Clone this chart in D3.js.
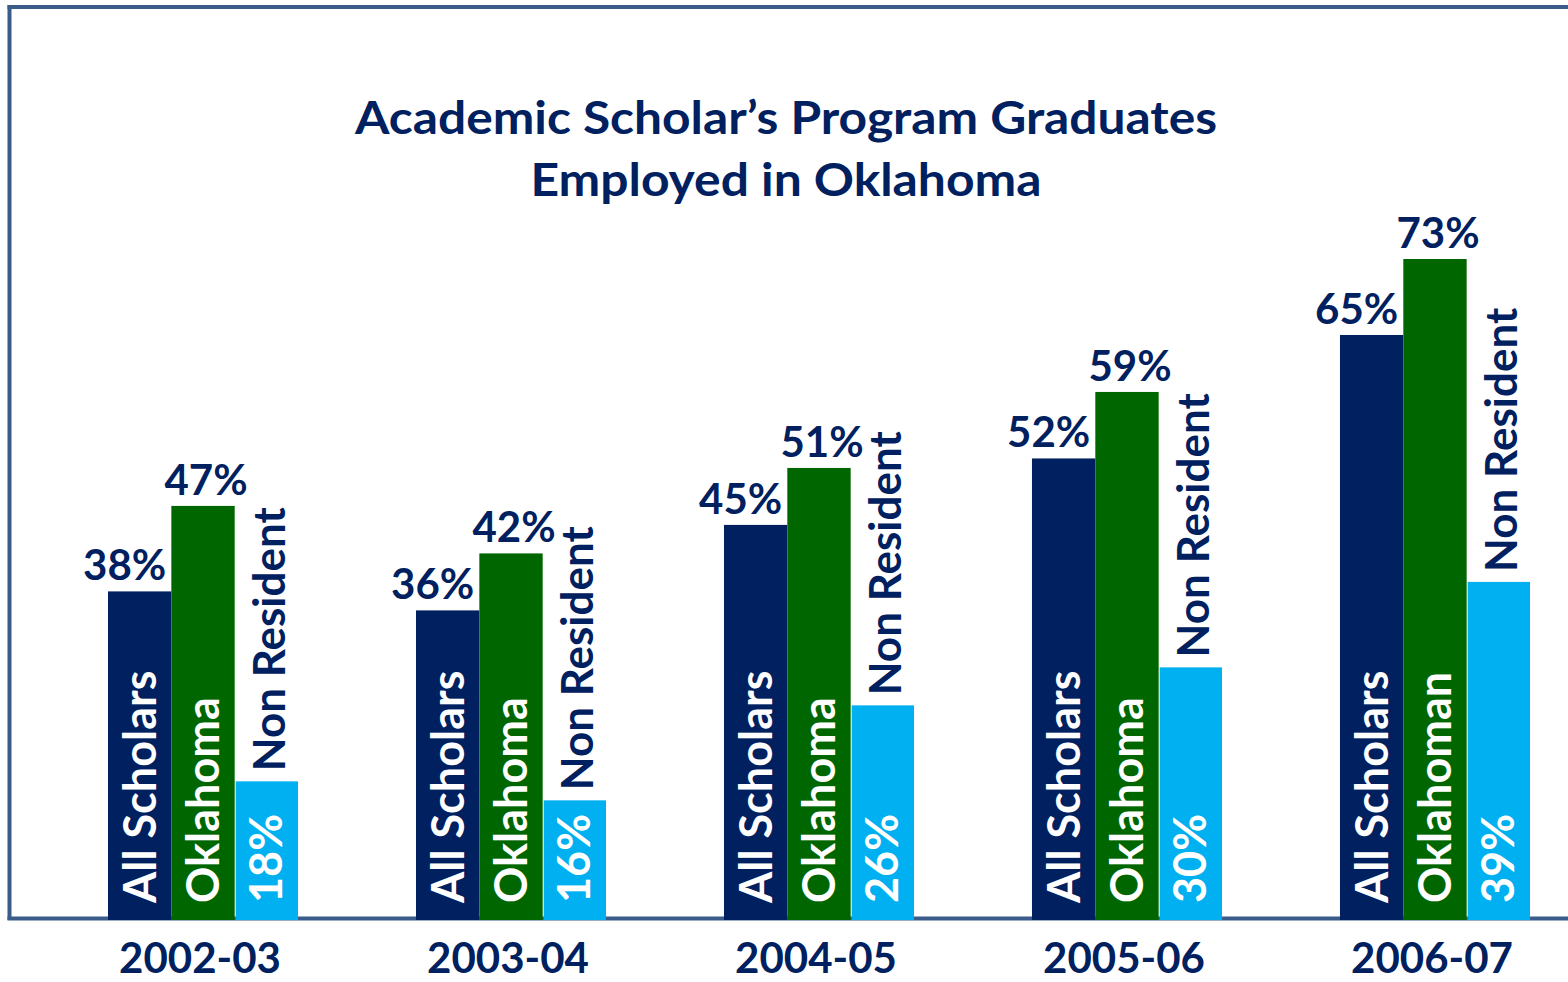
<!DOCTYPE html>
<html>
<head>
<meta charset="utf-8">
<script src="https://cdn.jsdelivr.net/npm/d3@7"></script>
<style>
  html, body { margin: 0; padding: 0; background: #ffffff; }
  svg { display: block; }
  text { font-family: Lato, "Open Sans", sans-serif; font-weight: 700; }
</style>
</head>
<body>
<svg id="chart" width="1568" height="982"></svg>
<script>
// ---- data ----
const categories = ["2002-03", "2003-04", "2004-05", "2005-06", "2006-07"];
const allScholars = [38, 36, 45, 52, 65];
const oklahoma = [47, 42, 51, 59, 73];
const nonResident = [18, 16, 26, 30, 39];
const allScholarsNames = ["All Scholars", "All Scholars", "All Scholars", "All Scholars", "All Scholars"];
const oklahomaNames = ["Oklahoma", "Oklahoma", "Oklahoma", "Oklahoma", "Oklahoman"];
const nonResidentNames = ["Non Resident", "Non Resident", "Non Resident", "Non Resident", "Non Resident"];
const titleLines = ["Academic Scholar\u2019s Program Graduates", "Employed in Oklahoma"];

// ---- styles ----
const NAVY = "#002060", GREEN = "#006600", SKY = "#00B0F0", FRAME = "#3B5B8A";
const titleWidths = [862, 511];

const svg = d3.select("#chart");
const W = 1568, H = 982;
const baseY = 920;

const x = d3.scaleBand().domain(categories).range([108, 1530]).paddingInner(0.383).paddingOuter(0);
const keys = ["all", "ok", "nr"];
const xs = d3.scaleBand().domain(keys).range([0, x.bandwidth()]).padding(0);
const y = d3.scaleLinear().domain([3.4, 73]).range([baseY, 259]);

const colors = { all: NAVY, ok: GREEN, nr: SKY };

// frame
svg.append("line").attr("x1", 9.5).attr("x2", 9.5).attr("y1", 5).attr("y2", 920)
  .attr("stroke", FRAME).attr("stroke-width", 4);
svg.append("line").attr("x1", 7.5).attr("x2", W).attr("y1", 7).attr("y2", 7)
  .attr("stroke", FRAME).attr("stroke-width", 4);
svg.append("line").attr("x1", 7.5).attr("x2", W).attr("y1", 918.5).attr("y2", 918.5)
  .attr("stroke", FRAME).attr("stroke-width", 4);

// title
svg.append("g").selectAll("text").data(titleLines).join("text")
  .attr("x", 786).attr("y", (d, i) => 134 + i * 62)
  .attr("text-anchor", "middle").attr("fill", NAVY)
  .attr("font-size", 46)
  .attr("textLength", (d, i) => titleWidths[i])
  .attr("lengthAdjust", "spacingAndGlyphs")
  .text(d => d);

const rows = categories.map((c, i) => ({
  cat: c,
  vals: { all: allScholars[i], ok: oklahoma[i], nr: nonResident[i] },
  names: { all: allScholarsNames[i], ok: oklahomaNames[i], nr: nonResidentNames[i] }
}));

const groups = svg.append("g").selectAll("g").data(rows).join("g")
  .attr("transform", d => `translate(${x(d.cat)},0)`);

// bars
groups.selectAll("rect").data(d => keys.map(k => ({ k, v: d.vals[k] }))).join("rect")
  .attr("x", d => xs(d.k) + (d.k === "nr" ? 1 : 0))
  .attr("width", d => xs.bandwidth() - (d.k === "nr" ? 1 : 0))
  .attr("y", d => y(d.v))
  .attr("height", d => baseY - y(d.v))
  .attr("fill", d => colors[d.k]);

// value labels above All Scholars / Oklahoma bars
const valOffset = { all: -15, ok: 3 };
groups.selectAll("text.val").data(d => ["all", "ok"].map(k => ({ k, v: d.vals[k] }))).join("text")
  .attr("class", "val")
  .attr("x", d => xs(d.k) + xs.bandwidth() / 2 + valOffset[d.k])
  .attr("y", d => y(d.v) - 11)
  .attr("text-anchor", "middle").attr("fill", NAVY).attr("font-size", 42)
  .text(d => d.v + "%");

// rotated labels inside bars (names for all/ok, value for nr)
groups.selectAll("text.inbar").data(d => [
    { k: "all", t: d.names.all },
    { k: "ok", t: d.names.ok },
    { k: "nr", t: d.vals.nr + "%" }
  ]).join("text")
  .attr("class", "inbar")
  .attr("transform", d => `translate(${xs(d.k) + xs.bandwidth() / 2 + 16},${baseY - 17}) rotate(-90)`)
  .attr("fill", "#ffffff").attr("font-size", 45)
  .text(d => d.t);

// "Non Resident" label above sky bar
groups.append("text")
  .attr("transform", d => `translate(${xs("nr") + xs.bandwidth() / 2 + 19},${y(d.vals.nr) - 10}) rotate(-90)`)
  .attr("fill", NAVY).attr("font-size", 44)
  .text(d => d.names.nr);

// category labels
groups.append("text")
  .attr("x", x.bandwidth() / 2 - 3).attr("y", 973)
  .attr("text-anchor", "middle").attr("fill", NAVY).attr("font-size", 42)
  .text(d => d.cat);
</script>
</body>
</html>
